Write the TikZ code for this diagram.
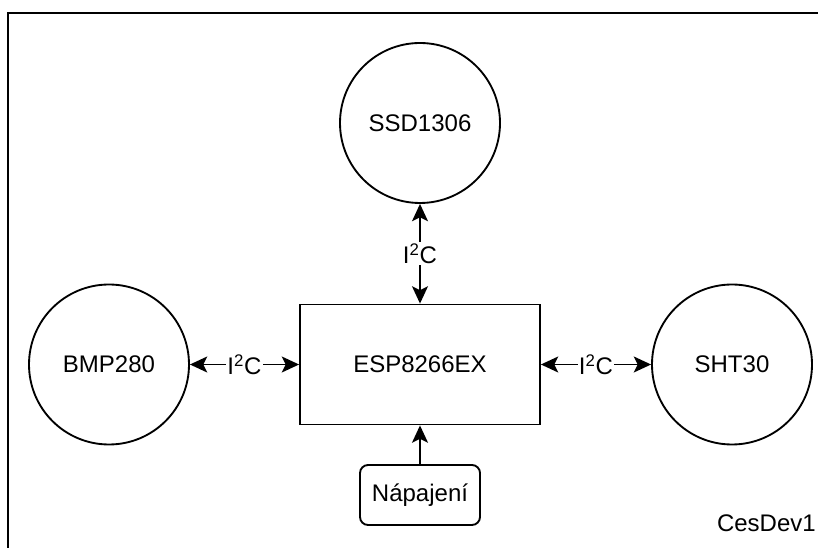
\documentclass[tikz,border=0pt]{standalone}
\usepackage{fontspec}
\setmainfont{Liberation Sans}
\usetikzlibrary{arrows.meta, positioning}

\begin{document}
\begin{tikzpicture}[
  x=0.75pt, y=-0.75pt,
  every node/.style={font=\fontsize{18pt}{21pt}\selectfont},
  sensor/.style={circle, draw, line width=1.4pt, minimum size=120pt, inner sep=0pt},
  chipbox/.style={rectangle, draw, line width=1.4pt, minimum width=180pt, minimum height=90pt},
  powerbox/.style={rectangle, rounded corners=6pt, draw, line width=1.4pt, minimum width=90pt, minimum height=45pt},
  buslabel/.style={fill=white, inner sep=1pt},
  feed/.style={line width=1.4pt, -{Stealth[length=13pt, width=12pt, inset=3pt]}},
  link/.style={feed, {Stealth[length=13pt, width=12pt, inset=3pt]}-{Stealth[length=13pt, width=12pt, inset=3pt]}},
]
\useasboundingbox (0,0) rectangle (818,548);
\clip (0,0) rectangle (818,548);
\draw[line width=1.6pt] (830,13) -- (8,13) -- (8,560);

\node[chipbox] (esp) at (420, 364.5) {ESP8266EX};
\node[sensor] (ssd) at (420, 123) {SSD1306};
\node[sensor] (bmp) at (109, 364.5) {BMP280};
\node[sensor] (sht) at (732, 364.5) {SHT30};
\node[powerbox] (pwr) at (420, 495) {Nápajení};
\node[anchor=base east, inner sep=0pt] (tag) at (816, 532) {CesDev1};

\draw[link] (esp) -- node[buslabel] {I\textsuperscript{2}C} (ssd);
\draw[link] (esp) -- node[buslabel] {I\textsuperscript{2}C} (bmp);
\draw[link] (esp) -- node[buslabel] {I\textsuperscript{2}C} (sht);
\draw[feed] (pwr) -- (esp);
\end{tikzpicture}
\end{document}
